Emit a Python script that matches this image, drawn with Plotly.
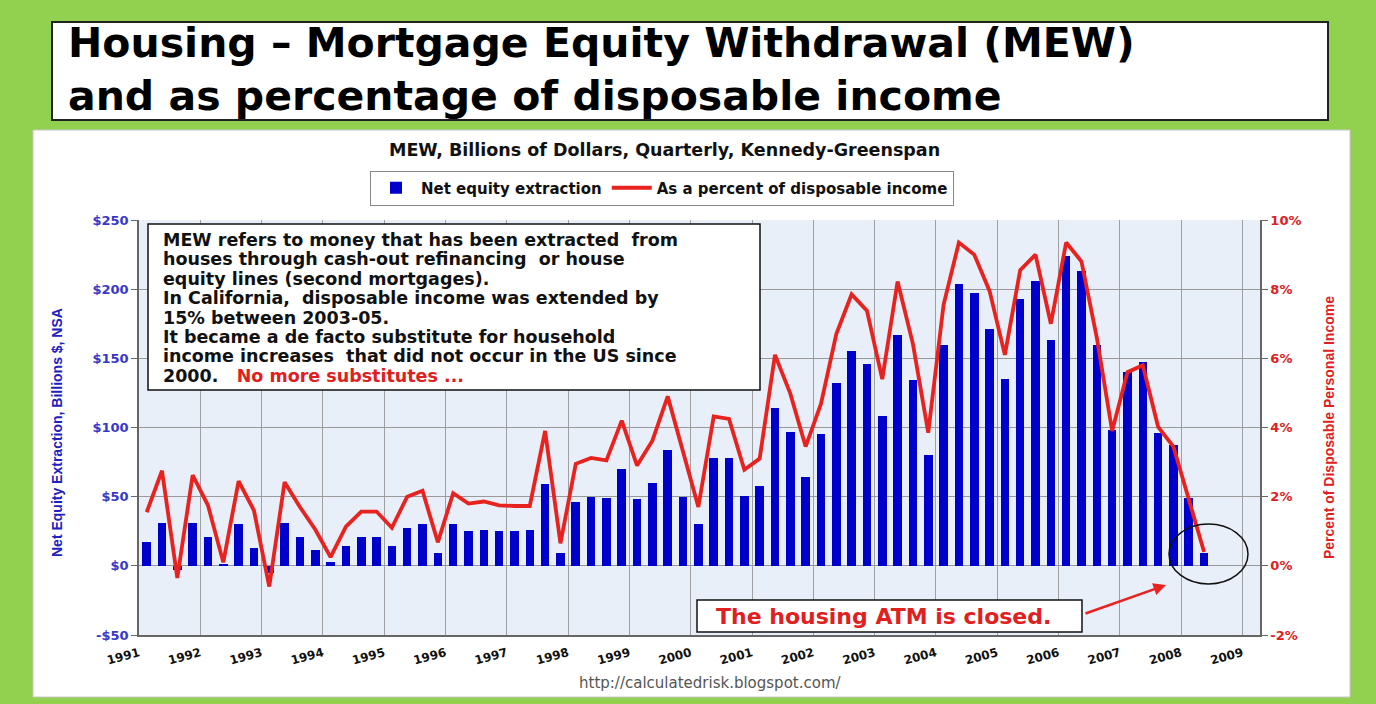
import plotly.graph_objects as go

# ---------------- data ----------------
years = list(range(1991, 2009))
quarters = [f"{y}Q{q}" for y in range(1991, 2009) for q in range(1, 5)][:70]
mew_billions = [17, 31, -3, 31, 21, 1, 30, 13, -5, 31, 21, 11.5, 2.5, 14, 21, 21,
                14, 27, 30, 9, 30, 25, 26, 25.5, 25, 26, 59.5, 9, 46, 50, 49, 70,
                48, 60, 84, 50, 30, 78, 78, 50.5, 58, 114, 97, 64, 95, 132, 155, 146,
                108, 167, 134, 80, 160, 204, 197, 171, 135, 193, 206, 163, 224, 213, 160, 98,
                140, 147, 96, 87, 49, 9]
pct_income = [1.55, 2.75, -0.35, 2.62, 1.75, 0.1, 2.45, 1.6, -0.6, 2.42, 1.7, 1.05,
              0.25, 1.13, 1.57, 1.57, 1.1, 2.0, 2.17, 0.68, 2.1, 1.8, 1.86, 1.75,
              1.73, 1.73, 3.9, 0.65, 2.95, 3.12, 3.05, 4.2, 2.9, 3.62, 4.9, 3.25,
              1.7, 4.32, 4.25, 2.78, 3.1, 6.1, 4.98, 3.45, 4.68, 6.7, 7.85, 7.38,
              5.4, 8.22, 6.42, 3.85, 7.55, 9.35, 9.0, 7.95, 6.1, 8.55, 9.0, 7.0,
              9.35, 8.8, 6.6, 3.9, 5.6, 5.8, 4.02, 3.45, 1.92, 0.4]
year_ticks = list(range(1991, 2010))
left_ticks = [-50, 0, 50, 100, 150, 200, 250]
left_labels = ["-$50", "$0", "$50", "$100", "$150", "$200", "$250"]
right_ticks = [-2, 0, 2, 4, 6, 8, 10]
right_labels = ["-2%", "0%", "2%", "4%", "6%", "8%", "10%"]

title_lines = ["Housing – Mortgage Equity Withdrawal (MEW)",
               "and as percentage of disposable income"]
box_lines = ["MEW refers to money that has been extracted  from",
             "houses through cash-out refinancing  or house",
             "equity lines (second mortgages).",
             "In California,  disposable income was extended by",
             "15% between 2003-05.",
             "It became a de facto substitute for household",
             "income increases  that did not occur in the US since",
             "2000.   <span style='color:#E02020'>No more substitutes ...</span>"]

# quarter label -> numeric x position (mid-quarter)
xq = [int(s[:4]) + (int(s[5]) - 0.5) / 4 for s in quarters]

# ---------------- geometry ----------------
W, H = 1376, 704
L, R, T, B = 139, 1260, 220, 635


def px(x):
    return (x - L) / (R - L)


def py(y):
    return (B - y) / (B - T)


BLUE = "#0000CC"
RED = "#E8221E"
TXTRED = "#E02020"
GREEN = "#92D050"
BOLD = dict(family="DejaVu Sans", weight="bold")

fig = go.Figure()
fig.add_trace(go.Bar(x=xq, y=mew_billions, width=0.14, marker=dict(color=BLUE, line=dict(width=0)),
                     name="Net equity extraction", yaxis="y"))
fig.add_trace(go.Scatter(x=xq, y=pct_income, mode="lines", line=dict(color=RED, width=3.8),
                         name="As a percent of disposable income", yaxis="y2"))

xmax = 1991 + (R - L) / 61.3

shapes = [
    # chart panel
    dict(type="rect", xref="paper", yref="paper", x0=px(33), x1=px(1350), y0=py(697), y1=py(130),
         fillcolor="white", line=dict(color="#C8C8C8", width=1), layer="below"),
    # plot background
    dict(type="rect", xref="paper", yref="paper", x0=0, x1=1, y0=0, y1=1,
         fillcolor="#E9EFF9", line=dict(width=0), layer="below"),
    # title box
    dict(type="rect", xref="paper", yref="paper", x0=px(52), x1=px(1328), y0=py(120), y1=py(22),
         fillcolor="white", line=dict(color="#222222", width=2), layer="below"),
    # text box
    dict(type="rect", xref="paper", yref="paper", x0=px(148), x1=px(760), y0=py(390), y1=py(224),
         fillcolor="white", line=dict(color="#111111", width=1.5), layer="above"),
    # ATM box
    dict(type="rect", xref="paper", yref="paper", x0=px(697), x1=px(1082), y0=py(632), y1=py(600),
         fillcolor="white", line=dict(color="#111111", width=1.5), layer="above"),
    # circle
    dict(type="circle", xref="paper", yref="paper", x0=px(1169), x1=px(1248), y0=py(584), y1=py(524),
         line=dict(color="#111111", width=1.5), layer="above"),
]

annotations = [
    dict(xref="paper", yref="paper", x=px(66), y=py(69), xanchor="left", yanchor="middle",
         text="<br>".join(title_lines), showarrow=False, align="left",
         font=dict(size=41, color="black", **BOLD)),
]
for i, line in enumerate(box_lines):
    annotations.append(dict(xref="paper", yref="paper", x=px(161), y=py(240 + 19.4 * i),
                            xanchor="left", yanchor="middle", text=line, showarrow=False,
                            font=dict(size=17.5, color="#111111", **BOLD)))

annotations += [
    dict(xref="paper", yref="paper", x=px(664), y=py(150), xanchor="center", yanchor="middle",
         text="MEW, Billions of Dollars, Quarterly, Kennedy-Greenspan", showarrow=False,
         font=dict(size=17.5, color="#111111", **BOLD)),
    dict(xref="paper", yref="paper", x=px(884), y=py(616), xanchor="center", yanchor="middle",
         text="The housing ATM is closed.", showarrow=False,
         font=dict(size=22, color=TXTRED, **BOLD)),
    dict(xref="paper", yref="paper", x=px(1166), y=py(585), ax=-82, ay=29,
         text="", showarrow=True, arrowhead=2, arrowsize=1, arrowwidth=2.5, arrowcolor=RED),
    dict(xref="paper", yref="paper", x=px(57), y=py(433), xanchor="center", yanchor="middle",
         text="Net Equity Extraction, Billions $, NSA", textangle=-90, showarrow=False,
         font=dict(family="Liberation Sans Narrow, Liberation Sans", size=14, color="#2020C0", weight="bold")),
    dict(xref="paper", yref="paper", x=px(1329), y=py(428), xanchor="center", yanchor="middle",
         text="Percent of Disposable Personal Income", textangle=-90, showarrow=False,
         font=dict(family="Liberation Sans Narrow, Liberation Sans", size=14, color=TXTRED, weight="bold")),
    dict(xref="paper", yref="paper", x=px(710), y=py(683), xanchor="center", yanchor="middle",
         text="http://calculatedrisk.blogspot.com/", showarrow=False,
         font=dict(family="DejaVu Sans", size=15, color="#555555")),
]

fig.update_layout(
    width=W, height=H,
    margin=dict(l=L, r=W - R, t=T, b=H - B, autoexpand=False),
    paper_bgcolor=GREEN,
    plot_bgcolor="rgba(0,0,0,0)",
    bargap=0,
    shapes=shapes,
    annotations=annotations,
    showlegend=True,
    legend=dict(orientation="h", xref="paper", yref="paper", x=px(662), y=py(188),
                xanchor="center", yanchor="middle", bgcolor="white", bordercolor="#888888",
                borderwidth=1, font=dict(size=15, color="#111111", **BOLD),
                itemwidth=40, tracegroupgap=0),
    xaxis=dict(range=[1991, xmax], tickmode="array", tickvals=year_ticks,
               ticktext=[str(y) for y in year_ticks], tickangle=-15,
               tickfont=dict(size=12, color="#111111", **BOLD),
               showgrid=True, gridcolor="#A0A0A0", gridwidth=1.2, zeroline=False,
               showline=True, linecolor="#666666", linewidth=1.5, ticks="outside", ticklen=5,
               tickcolor="rgba(0,0,0,0)"),
    yaxis=dict(range=[-50, 250], tickmode="array", tickvals=left_ticks, ticktext=left_labels,
               tickfont=dict(size=13, color="#3838C8", **BOLD),
               showgrid=True, gridcolor="#999999", gridwidth=1.2, zeroline=False,
               showline=True, linecolor="#666666", linewidth=1.5, ticks="outside", ticklen=6,
               tickcolor="#666666"),
    yaxis2=dict(range=[-2, 10], overlaying="y", side="right", tickmode="array",
                tickvals=right_ticks, ticktext=right_labels,
                tickfont=dict(size=13, color=TXTRED, **BOLD),
                showgrid=False, zeroline=False, showline=True, linecolor="#666666", linewidth=1.5,
                ticks="outside", ticklen=6, tickcolor="#666666"),
)

fig.write_html("out.html", config={"displayModeBar": False},
               post_script="document.body.style.margin='0';")
